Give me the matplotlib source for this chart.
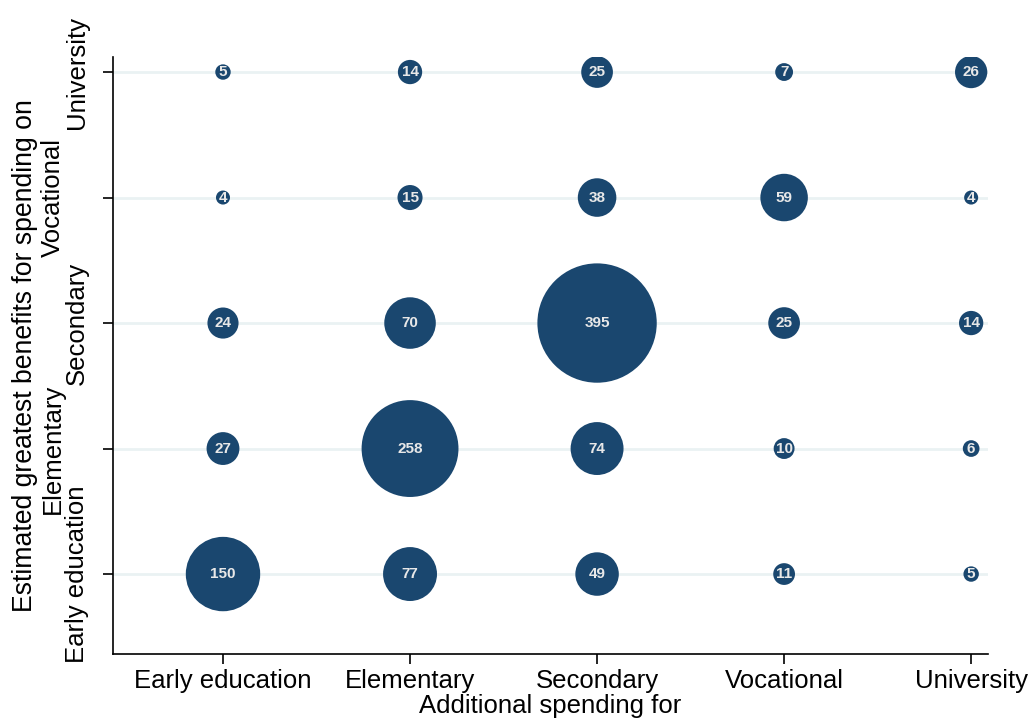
import matplotlib
matplotlib.use("Agg")
import matplotlib.pyplot as plt
import numpy as np

# categories (same on both axes)
levels = ["Early education", "Elementary", "Secondary", "Vocational", "University"]

# counts: rows = estimated greatest benefits (y), cols = additional spending (x)
counts = [
    [150, 77, 49, 11, 5],     # Early education
    [27, 258, 74, 10, 6],     # Elementary
    [24, 70, 395, 25, 14],    # Secondary
    [4, 15, 38, 59, 4],       # Vocational
    [5, 14, 25, 7, 26],       # University
]

navy = "#1a476f"
plt.rcParams["font.family"] = ["Liberation Sans", "DejaVu Sans"]

fig = plt.figure(figsize=(10.34, 7.24), dpi=100)
ax = fig.add_axes([0.1093, 0.0967, 0.8462, 0.8246])

xs, ys, vals = [], [], []
for i, row in enumerate(counts):
    for j, v in enumerate(row):
        xs.append(j + 1)
        ys.append(i + 1)
        vals.append(v)
xs = np.array(xs)
ys = np.array(ys)
vals = np.array(vals)

# bubble area proportional to count
ax.scatter(xs, ys, s=vals * 18.0, color=navy, edgecolors=navy, linewidths=1.6,
           zorder=3)
for x, y, v in zip(xs, ys, vals):
    ax.text(x, y, str(v), ha="center", va="center", color="#e8e8e8",
            fontsize=11, fontweight="bold", zorder=4)

ax.set_xlim(0.412, 5.09)
ax.set_ylim(0.363, 5.12)

ax.set_xticks(range(1, 6))
ax.set_xticklabels(levels, fontsize=18.5)
ax.set_yticks(range(1, 6))
ax.set_yticklabels(levels, fontsize=18.5, rotation=90, va="center")

for y in range(1, 6):
    ax.axhline(y, color="#eaf2f3", lw=2, zorder=1)

ax.tick_params(axis="both", length=7.5, width=1.2, color="black")
ax.tick_params(axis="x", pad=3)
for k, t in enumerate(ax.yaxis.get_major_ticks()):
    t.set_pad(10 if k % 2 == 0 else 27)

for side in ["top", "right"]:
    ax.spines[side].set_visible(False)
for side in ["left", "bottom"]:
    ax.spines[side].set_linewidth(1.2)

ax.set_xlabel("Additional spending for", fontsize=18.5, labelpad=1)
ax.set_ylabel("Estimated greatest benefits for spending on", fontsize=19.2, labelpad=2)

fig.savefig("out.png", dpi=100, facecolor="white")
